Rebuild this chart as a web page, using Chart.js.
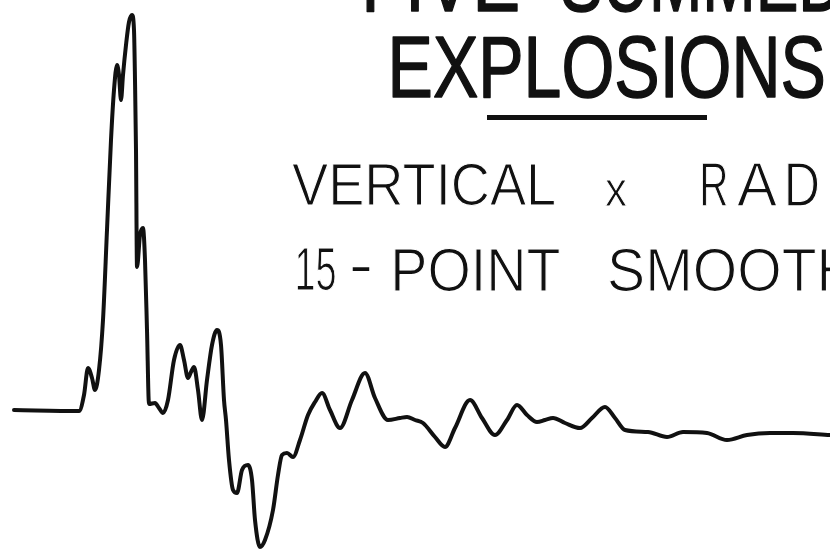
<!DOCTYPE html>
<html>
<head>
<meta charset="utf-8">
<script src="https://cdn.jsdelivr.net/npm/chart.js@4"></script>
<style>
  html, body { margin: 0; background: #fff; }
  #wrap { width: 830px; height: 551px; }
</style>
</head>
<body>
<div id="wrap"><canvas id="trace" width="830" height="551"></canvas></div>
<script>
// ── Trace data (time in s, amplitude in arbitrary units) ─────
var TIME = [
  0.14, 0.79, 0.84, 0.88, 0.92, 0.95, 0.99, 1.03, 1.07, 1.11,
  1.14, 1.17, 1.19, 1.21, 1.23, 1.26, 1.29, 1.32, 1.34, 1.35,
  1.36, 1.37, 1.40, 1.43, 1.45, 1.47, 1.49, 1.55, 1.59, 1.63,
  1.68, 1.74, 1.80, 1.84, 1.88, 1.91, 1.94, 1.98, 2.02, 2.07,
  2.12, 2.17, 2.21, 2.24, 2.26, 2.29, 2.33, 2.37, 2.42, 2.48,
  2.52, 2.55, 2.60, 2.65, 2.73, 2.78, 2.82, 2.87, 2.93, 3.00,
  3.08, 3.15, 3.22, 3.30, 3.40, 3.52, 3.65, 3.75, 3.88, 4.00,
  4.07, 4.15, 4.23, 4.35, 4.45, 4.55, 4.70, 4.82, 4.95, 5.07,
  5.17, 5.27, 5.37, 5.45, 5.53, 5.65, 5.80, 5.92, 6.05, 6.15,
  6.25, 6.48, 6.67, 6.83, 7.07, 7.27, 7.47, 7.70, 7.93, 8.30
];
var AMPLITUDE = [
  0.0, -0.1, 1.5, 4.2, 3.2, 2.0, 4.0, 9.0, 18.0, 27.0,
  32.0, 34.5, 33.5, 31.0, 33.5, 36.5, 38.8, 39.5, 38.0, 33.0,
  26.0, 14.3, 17.5, 18.2, 15.0, 8.0, 0.6, 0.7, 0.2, -0.3,
  1.0, 5.0, 6.5, 5.0, 3.2, 3.8, 4.3, 2.0, -1.0, 3.0,
  6.5, 8.0, 6.5, 1.0, -1.0, -5.0, -8.0, -8.3, -6.0, -5.5,
  -7.0, -11.0, -13.7, -13.0, -10.0, -6.5, -4.5, -4.3, -4.7, -3.0,
  -0.5, 0.8, 1.7, 0.0, -1.8, 1.0, 3.7, 1.2, -1.0, -0.8,
  -0.7, -1.0, -1.3, -2.7, -3.7, -1.8, 1.0, -0.8, -2.5, -1.0,
  0.5, -0.5, -1.2, -1.0, -0.8, -1.3, -1.8, -0.8, 0.3, -0.8,
  -2.0, -2.2, -2.7, -2.2, -2.3, -3.0, -2.5, -2.3, -2.3, -2.5
];

// ── Lettering ───────────────────────────────────────────────
var TITLE_LINE_1 = ['FIVE', 'SUMMED'];
var TITLE_LINE_2 = 'EXPLOSIONS';
var SUB_LINE_1   = ['VERTICAL', 'x', 'RADIAL'];
var SUB_LINE_2   = ['15', '-', 'POINT', 'SMOOTHED'];

var INK = '#111';
var TITLE_FONT = "88px 'Liberation Sans Narrow', 'Liberation Sans', sans-serif";
var SUB_FONT   = "60px 'Liberation Sans Narrow', 'Liberation Sans', sans-serif";

// draws text so its ink box fills [x0,x1] x [top,bottom]
// weight > 0 thickens the strokes, weight < 0 thins them
function drawFit(ctx, text, x0, x1, top, bottom, font, weight) {
  ctx.save();
  ctx.font = font;
  var m = ctx.measureText(text);
  var w = m.actualBoundingBoxLeft + m.actualBoundingBoxRight;
  var h = m.actualBoundingBoxAscent + m.actualBoundingBoxDescent;
  ctx.translate(x0, top);
  ctx.scale((x1 - x0) / w, (bottom - top) / h);
  ctx.textBaseline = 'alphabetic';
  ctx.fillStyle = INK;
  ctx.fillText(text, m.actualBoundingBoxLeft, m.actualBoundingBoxAscent);
  if (weight) {
    ctx.strokeStyle = weight > 0 ? INK : '#fff';
    ctx.lineWidth = Math.abs(weight);
    ctx.lineJoin = 'round';
    ctx.strokeText(text, m.actualBoundingBoxLeft, m.actualBoundingBoxAscent);
  }
  ctx.restore();
}

var lettering = {
  id: 'lettering',
  afterDraw: function(chart) {
    var ctx = chart.ctx;
    // title, top line cut by the frame
    drawFit(ctx, TITLE_LINE_1[0], 367, 517, -51, 12, TITLE_FONT, 1.5);
    drawFit(ctx, TITLE_LINE_1[1], 563, 842, -51, 12, TITLE_FONT, 1.5);
    drawFit(ctx, TITLE_LINE_2, 393, 823, 36, 98, TITLE_FONT, 1.5);
    ctx.fillStyle = INK;
    ctx.fillRect(487, 115, 220, 5);

    // subtitle
    drawFit(ctx, SUB_LINE_1[0], 292, 555, 163, 206, SUB_FONT, -1.2);
    drawFit(ctx, SUB_LINE_1[1], 605, 627, 181, 206, SUB_FONT, -1.2);
    var radX = [[702, 727], [737, 777], [787, 818], [838, 843], [858, 898], [915, 942]];
    for (var i = 0; i < SUB_LINE_1[2].length; i++) {
      drawFit(ctx, SUB_LINE_1[2][i], radX[i][0], radX[i][1], 163, 206, SUB_FONT, -1.2);
    }
    drawFit(ctx, SUB_LINE_2[0], 297, 335, 248, 291, SUB_FONT, -1.2);
    drawFit(ctx, SUB_LINE_2[1], 352, 370, 268, 272, SUB_FONT);
    drawFit(ctx, SUB_LINE_2[2], 394, 560, 248, 292, SUB_FONT, -1.2);
    drawFit(ctx, SUB_LINE_2[3], 609, 935, 248, 292, SUB_FONT, -1.2);
  }
};

var points = TIME.map(function(t, i) { return { x: t, y: AMPLITUDE[i] }; });

new Chart(document.getElementById('trace'), {
  type: 'line',
  data: {
    datasets: [{
      data: points,
      borderColor: INK,
      borderWidth: 4,
      borderCapStyle: 'round',
      borderJoinStyle: 'round',
      pointRadius: 0,
      cubicInterpolationMode: 'monotone',
      fill: false
    }]
  },
  options: {
    responsive: false,
    animation: false,
    layout: { padding: 0 },
    plugins: { legend: { display: false }, tooltip: { enabled: false } },
    scales: {
      x: { type: 'linear', min: 0, max: 8.3, display: false },
      y: { type: 'linear', min: -14.1, max: 41, display: false }
    }
  },
  plugins: [lettering]
});
</script>
</body>
</html>
